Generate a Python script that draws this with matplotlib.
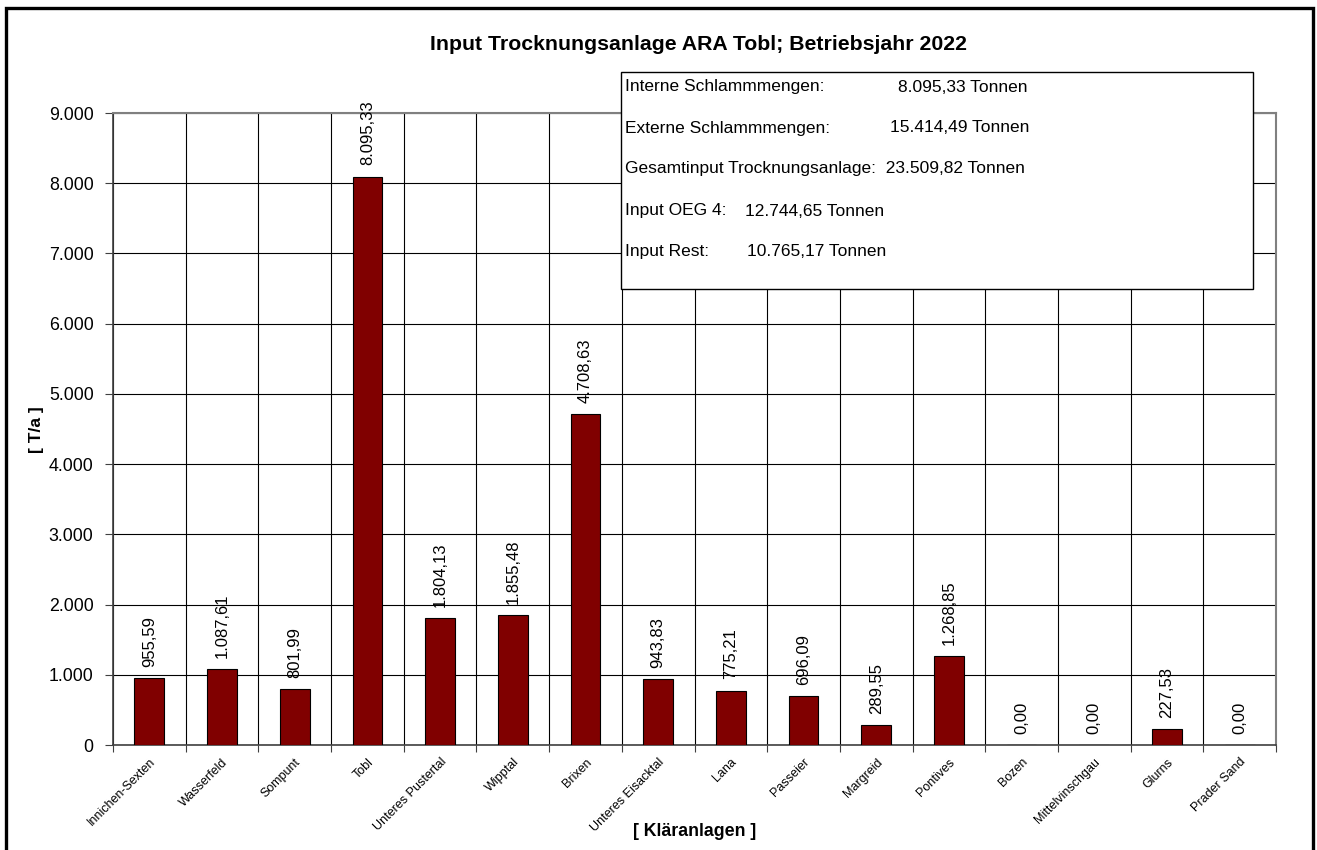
import matplotlib
matplotlib.use("Agg")
import matplotlib.pyplot as plt
from matplotlib.patches import Rectangle
from matplotlib.transforms import ScaledTranslation

plt.rcParams['font.family'] = ['Liberation Sans', 'DejaVu Sans']

# Daten
anlagen = ["Innichen-Sexten", "Wasserfeld", "Sompunt", "Tobl", "Unteres Pustertal",
           "Wipptal", "Brixen", "Unteres Eisacktal", "Lana", "Passeier", "Margreid",
           "Pontives", "Bozen", "Mittelvinschgau", "Glurns", "Prader Sand"]
tonnen = [955.59, 1087.61, 801.99, 8095.33, 1804.13, 1855.48, 4708.63, 943.83,
          775.21, 696.09, 289.55, 1268.85, 0.00, 0.00, 227.53, 0.00]

info_labels = ["Interne Schlammmengen:", "Externe Schlammmengen:",
               "Gesamtinput Trocknungsanlage:", "Input OEG 4:", "Input Rest:"]
info_values = [8095.33, 15414.49, 23509.82, 12744.65, 10765.17]

yticks = [0, 1000, 2000, 3000, 4000, 5000, 6000, 7000, 8000, 9000]


def de_fmt(v, dec=2):
    s = f"{v:,.{dec}f}"
    return s.replace(",", "X").replace(".", ",").replace("X", ".")


W, H = 1317, 850
fig = plt.figure(figsize=(W / 100, H / 100), dpi=100)

# aeusserer Rahmen
fig.patches.append(Rectangle((6 / W, -0.05), 1307 / W, 1.05 - 8 / H, transform=fig.transFigure,
                             fill=False, edgecolor='black', linewidth=2.4))

ax = fig.add_axes([113 / W, 105 / H, 1163 / W, 632 / H])
x = list(range(len(anlagen)))
ax.bar(x, tonnen, width=0.41, color='#800000', edgecolor='black', linewidth=0.8, zorder=3)

for xi, v in zip(x, tonnen):
    ax.annotate(de_fmt(v), (xi, v), xytext=(0, 8), textcoords='offset points',
                rotation=90, ha='center', va='bottom', fontsize=12, zorder=4)

ax.set_xlim(-0.5, len(anlagen) - 0.5)
ax.set_ylim(0, 9000)
ax.set_yticks(yticks)
ax.set_yticklabels([de_fmt(t, 0) for t in yticks], fontsize=12.8)

# Gitter an den Kategoriegrenzen
bounds = [i - 0.5 for i in range(len(anlagen) + 1)]
ax.set_xticks(bounds)
ax.set_xticklabels([])
ax.set_xticks(x, minor=True)
ax.set_xticklabels(anlagen, minor=True, rotation=45, ha='right', rotation_mode='anchor',
                   fontsize=9)
shift = ScaledTranslation(-7 / 100, 0, fig.dpi_scale_trans)
for lbl in ax.get_xticklabels(minor=True):
    lbl.set_transform(lbl.get_transform() + shift)
ax.tick_params(axis='x', which='minor', length=0, pad=8)
ax.tick_params(axis='x', which='major', length=5, direction='out', color='#404040')
ax.tick_params(axis='y', length=6, direction='out', color='#404040', pad=8)
ax.grid(True, which='major', color='black', linewidth=0.8, zorder=0)

for s in ['top', 'right']:
    ax.spines[s].set_color('#808080')
    ax.spines[s].set_linewidth(1.5)
for s in ['left', 'bottom']:
    ax.spines[s].set_color('#404040')
    ax.spines[s].set_linewidth(1.2)

fig.text(698 / W, 1 - 44 / H, "Input Trocknungsanlage ARA Tobl; Betriebsjahr 2022",
         ha='center', va='center', fontsize=15.3, fontweight='bold')
fig.text(37 / W, 1 - 430 / H, "[ T/a ]", rotation=90, ha='center', va='center',
         fontsize=12.5, fontweight='bold')
fig.text(695 / W, 1 - 832 / H, "[ Kläranlagen ]", ha='center', va='center',
         fontsize=12.8, fontweight='bold')

# Infobox
fig.patches.append(Rectangle((621 / W, 1 - 289 / H), 632 / W, 217 / H, transform=fig.transFigure,
                             facecolor='white', edgecolor='black', linewidth=1.0, zorder=5))
line_y = [87, 128, 169, 211, 252]
value_x = [898, 890, None, 745, 747]
for lab, val, ly, vx in zip(info_labels, info_values, line_y, value_x):
    if vx is None:
        fig.text(625 / W, 1 - ly / H, f"{lab}  {de_fmt(val)} Tonnen", ha='left', va='center',
                 fontsize=12.5, zorder=6)
    else:
        fig.text(625 / W, 1 - ly / H, lab, ha='left', va='center', fontsize=12.5, zorder=6)
        fig.text(vx / W, 1 - ly / H, f"{de_fmt(val)} Tonnen", ha='left', va='center',
                 fontsize=12.5, zorder=6)

fig.savefig("out.png", dpi=100)
